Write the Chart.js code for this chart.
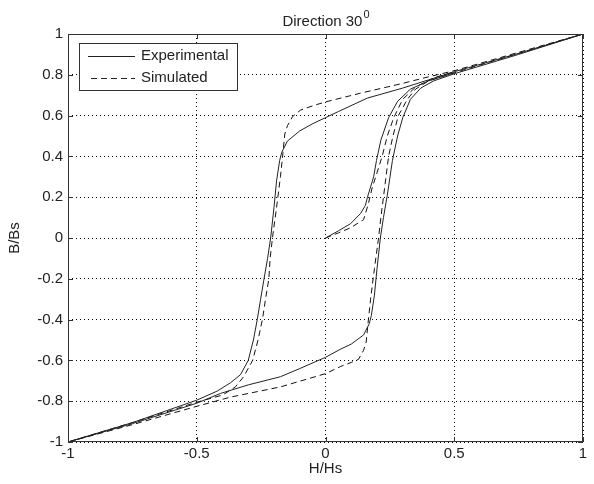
<!DOCTYPE html>
<html>
<head>
<meta charset="utf-8">
<script src="https://cdn.jsdelivr.net/npm/chart.js@4.4.0/dist/chart.umd.min.js"></script>
<style>
  body { margin: 0; background: #fff; }
  canvas { display: block; }
</style>
</head>
<body>
<canvas id="myChart" width="594" height="484"></canvas>
<script>
// tick values
var hTicks = [-1, -0.5, 0, 0.5, 1];
var bTicks = [-1, -0.8, -0.6, -0.4, -0.2, 0, 0.2, 0.4, 0.6, 0.8, 1];

// Experimental loop (solid): descending branch then ascending branch
var expH = [1, 0.75, 0.5, 0.4, 0.3, 0.163, 0.05, 0, -0.05, -0.1, -0.148, -0.17, -0.178, -0.19, -0.2, -0.213, -0.225, -0.24, -0.252, -0.265, -0.28, -0.3, -0.33, -0.369, -0.42, -0.5, -0.75, -1,
            -0.75, -0.5, -0.408, -0.3, -0.175, -0.1, 0, 0.058, 0.1, 0.148, 0.17, 0.178, 0.19, 0.2, 0.213, 0.225, 0.24, 0.26, 0.28, 0.3, 0.33, 0.37, 0.42, 0.5, 0.75, 1];
var expB = [1, 0.905, 0.815, 0.775, 0.735, 0.686, 0.62, 0.59, 0.56, 0.525, 0.475, 0.42, 0.38, 0.28, 0.15, 0, -0.1, -0.21, -0.3, -0.4, -0.5, -0.6, -0.67, -0.71, -0.75, -0.795, -0.905, -1,
            -0.91, -0.81, -0.762, -0.72, -0.68, -0.64, -0.585, -0.545, -0.52, -0.475, -0.42, -0.38, -0.28, -0.15, 0, 0.1, 0.21, 0.38, 0.5, 0.59, 0.68, 0.735, 0.77, 0.805, 0.9, 1];

// Experimental initial curve (solid)
var expInitH = [0, 0.05, 0.097, 0.136, 0.155, 0.163, 0.175, 0.187, 0.198, 0.215, 0.245, 0.28, 0.33, 0.4, 0.5];
var expInitB = [0, 0.035, 0.07, 0.12, 0.16, 0.2, 0.25, 0.3, 0.38, 0.48, 0.59, 0.67, 0.73, 0.77, 0.81];

// Simulated loop (dashed)
var simH = [1, 0.75, 0.5, 0.4, 0.29, 0.136, 0, -0.045, -0.097, -0.128, -0.148, -0.158, -0.165, -0.175, -0.19, -0.206, -0.215, -0.22, -0.233, -0.245, -0.262, -0.283, -0.318, -0.35, -0.4, -0.5, -0.75, -1,
            -0.75, -0.5, -0.369, -0.175, 0, 0.058, 0.1, 0.128, 0.148, 0.158, 0.165, 0.175, 0.19, 0.206, 0.215, 0.225, 0.245, 0.262, 0.283, 0.318, 0.35, 0.4, 0.5, 0.75, 1];
var simB = [1, 0.91, 0.82, 0.79, 0.755, 0.71, 0.667, 0.65, 0.627, 0.595, 0.55, 0.51, 0.42, 0.3, 0.15, 0, -0.1, -0.2, -0.3, -0.4, -0.5, -0.6, -0.68, -0.73, -0.77, -0.805, -0.905, -1,
            -0.915, -0.825, -0.78, -0.73, -0.665, -0.63, -0.61, -0.595, -0.55, -0.51, -0.42, -0.3, -0.15, 0, 0.1, 0.2, 0.4, 0.5, 0.6, 0.68, 0.73, 0.77, 0.81, 0.905, 1];

// Simulated initial curve (dashed)
var simInitH = [0, 0.05, 0.097, 0.148, 0.167, 0.18, 0.2, 0.22, 0.24, 0.265, 0.3, 0.35, 0.42, 0.5];
var simInitB = [0, 0.025, 0.05, 0.09, 0.17, 0.24, 0.32, 0.4, 0.5, 0.59, 0.68, 0.74, 0.785, 0.815];

function pts(xs, ys) {
  var out = [];
  for (var i = 0; i < xs.length; i++) out.push({x: xs[i], y: ys[i]});
  return out;
}

var FONT = '"Liberation Sans", Arial, sans-serif';
var DASH = [6, 4];

// box, inner tick marks, title and legend the MATLAB way
var matlabBits = {
  id: 'matlabBits',
  afterDraw: function(chart) {
    var ctx = chart.ctx, a = chart.chartArea;
    var sx = chart.scales.x, sy = chart.scales.y;
    ctx.save();
    ctx.strokeStyle = '#333';
    ctx.lineWidth = 1;
    ctx.setLineDash([]);
    ctx.strokeRect(Math.round(a.left) + 0.5, Math.round(a.top) + 0.5, Math.round(a.width) - 1, Math.round(a.height) - 1);
    ctx.beginPath();
    hTicks.forEach(function(v) {
      var p = Math.round(sx.getPixelForValue(v)) + 0.5;
      ctx.moveTo(p, a.bottom); ctx.lineTo(p, a.bottom - 5);
      ctx.moveTo(p, a.top); ctx.lineTo(p, a.top + 5);
    });
    bTicks.forEach(function(v) {
      var p = Math.round(sy.getPixelForValue(v)) + 0.5;
      ctx.moveTo(a.left, p); ctx.lineTo(a.left + 5, p);
      ctx.moveTo(a.right, p); ctx.lineTo(a.right - 5, p);
    });
    ctx.stroke();

    // title with superscript
    ctx.fillStyle = '#222';
    ctx.textBaseline = 'alphabetic';
    ctx.font = '15px ' + FONT;
    var main = 'Direction 30';
    var w1 = ctx.measureText(main).width;
    ctx.font = '11px ' + FONT;
    var w2 = ctx.measureText('0').width;
    var cx = (a.left + a.right) / 2;
    var x0 = cx - (w1 + w2) / 2;
    ctx.font = '15px ' + FONT;
    ctx.textAlign = 'left';
    ctx.fillText(main, x0, 26);
    ctx.font = '11px ' + FONT;
    ctx.fillText('0', x0 + w1 + 1, 18);

    // legend
    ctx.fillStyle = '#fff';
    ctx.fillRect(79, 43, 158, 47);
    ctx.strokeStyle = '#333';
    ctx.strokeRect(79.5, 43.5, 158, 47);
    ctx.strokeStyle = '#222';
    ctx.beginPath();
    ctx.moveTo(88, 56.5); ctx.lineTo(135, 56.5);
    ctx.stroke();
    ctx.setLineDash(DASH);
    ctx.beginPath();
    ctx.moveTo(91, 78.5); ctx.lineTo(135, 78.5);
    ctx.stroke();
    ctx.setLineDash([]);
    ctx.fillStyle = '#222';
    ctx.font = '15px ' + FONT;
    ctx.textBaseline = 'middle';
    ctx.fillText('Experimental', 141, 56);
    ctx.fillText('Simulated', 141, 78);
    ctx.restore();
  }
};

var solid = { borderColor: '#222', borderWidth: 1, pointRadius: 0, showLine: true, tension: 0, fill: false };
var dashed = { borderColor: '#111', borderWidth: 1, pointRadius: 0, showLine: true, tension: 0, fill: false, borderDash: DASH };

var ctx = document.getElementById('myChart');
var myChart = new Chart(ctx, {
  type: 'scatter',
  data: {
    datasets: [
      Object.assign({ label: 'Experimental', data: pts(expH, expB) }, solid),
      Object.assign({ label: 'Experimental initial', data: pts(expInitH, expInitB) }, solid),
      Object.assign({ label: 'Simulated', data: pts(simH, simB) }, dashed),
      Object.assign({ label: 'Simulated initial', data: pts(simInitH, simInitB) }, dashed)
    ]
  },
  options: {
    responsive: false,
    animation: false,
    layout: { padding: { left: 6, right: 11, top: 34, bottom: 6 } },
    plugins: { legend: { display: false }, tooltip: { enabled: false } },
    scales: {
      x: {
        type: 'linear', min: -1, max: 1,
        afterBuildTicks: function(s) { s.ticks = hTicks.map(function(v) { return {value: v}; }); },
        afterFit: function(s) { s.height = 36; },
        ticks: { color: '#222', font: { size: 15, family: FONT }, padding: 3, maxRotation: 0,
                 callback: function(v) { return String(v); } },
        grid: { color: '#000', lineWidth: 1, drawTicks: false },
        border: { display: false, dash: [1, 3] },
        title: { display: true, text: 'H/Hs', color: '#222', font: { size: 15, family: FONT }, padding: 0 }
      },
      y: {
        type: 'linear', min: -1, max: 1,
        afterBuildTicks: function(s) { s.ticks = bTicks.map(function(v) { return {value: v}; }); },
        afterFit: function(s) { s.width = 62; },
        ticks: { color: '#222', font: { size: 15, family: FONT }, padding: 5,
                 callback: function(v) { return String(Math.round(v * 10) / 10); } },
        grid: { color: '#000', lineWidth: 1, drawTicks: false },
        border: { display: false, dash: [1, 3] },
        title: { display: true, text: 'B/Bs', color: '#222', font: { size: 15, family: FONT }, padding: 0 }
      }
    }
  },
  plugins: [matlabBits]
});
</script>
</body>
</html>
